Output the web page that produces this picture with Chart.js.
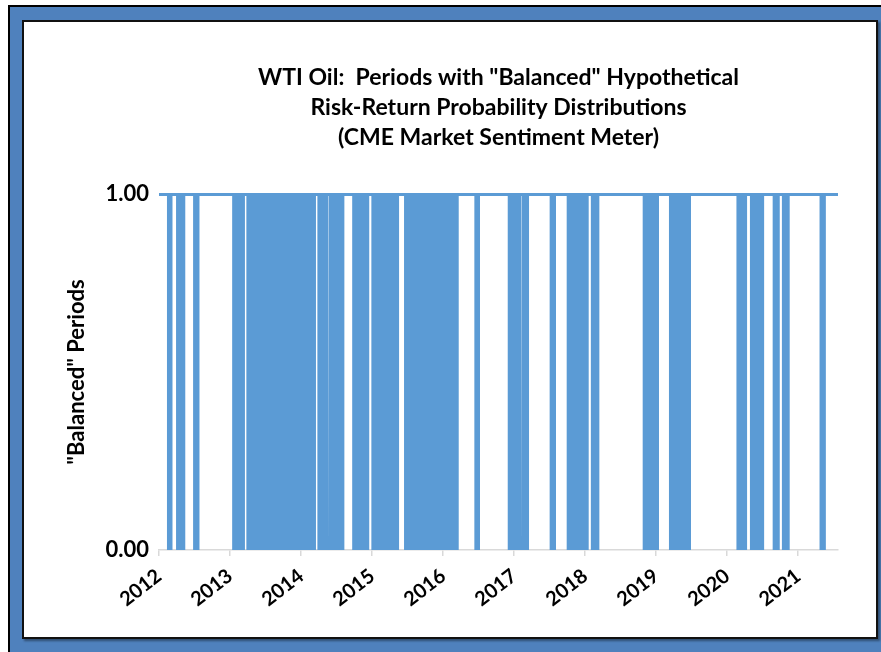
<!DOCTYPE html>
<html>
<head>
<meta charset="utf-8">
<script src="https://cdn.jsdelivr.net/npm/chart.js@4/dist/chart.umd.min.js"></script>
<style>
  html, body { margin: 0; padding: 0; background: #fff; width: 881px; height: 652px; overflow: hidden; }
  .frame { position: absolute; left: 8px; top: 5px; width: 900px; height: 700px; background: #4f81bd; border-top: 2px solid #000; border-left: 2px solid #000; box-sizing: border-box; }
  .panel { position: absolute; left: 22px; top: 20px; width: 856px; height: 619px; background: #fff; border: 2px solid #111; box-sizing: border-box; box-shadow: 2px 2px 2px rgba(0,0,0,0.4); }
  .box { position: absolute; left: 0; top: 0; width: 850px; height: 614px; }
</style>
</head>
<body>
<div class="frame"></div>
<div class="panel"><div class="box"><canvas id="oilChart"></canvas></div></div>
<script>
// "Balanced" periods, as decimal years (start / end)
const periodStart = [2012.11, 2012.24, 2012.48, 2013.03, 2013.23, 2014.23, 2014.39, 2014.72, 2014.99, 2015.45,
    2016.44, 2016.91, 2017.11, 2017.50, 2017.74, 2018.08, 2018.81, 2019.18, 2020.13, 2020.32, 2020.64, 2020.77, 2021.30];
const periodEnd = [2012.19, 2012.37, 2012.57, 2013.21, 2014.21, 2014.38, 2014.61, 2014.96, 2015.38, 2016.22,
    2016.52, 2017.10, 2017.21, 2017.59, 2018.05, 2018.20, 2019.04, 2019.49, 2020.28, 2020.52, 2020.74, 2020.88, 2021.39];
const yearLabels = ["2012", "2013", "2014", "2015", "2016", "2017", "2018", "2019", "2020", "2021"];
const yTicks = [0, 1];

const points = [];
periodStart.forEach((s, i) => {
    points.push({ x: s, y: 0 }, { x: s, y: 1 }, { x: periodEnd[i], y: 1 }, { x: periodEnd[i], y: 0 });
});

const font = "Lato, 'Open Sans', sans-serif";
const blue = "#5b9bd5";

new Chart(document.getElementById("oilChart"), {
    type: "line",
    data: {
        datasets: [{
            data: points,
            borderWidth: 0,
            borderColor: blue,
            backgroundColor: blue,
            pointRadius: 0,
            tension: 0,
            fill: "origin"
        }]
    },
    options: {
        responsive: true,
        maintainAspectRatio: false,
        animation: false,
        layout: { padding: { left: 0, right: 36, top: 0, bottom: 0 } },
        plugins: {
            legend: { display: false },
            tooltip: { enabled: false },
            title: {
                display: true,
                fullSize: false,
                text: ["WTI Oil:  Periods with \"Balanced\" Hypothetical",
                    "Risk-Return Probability Distributions",
                    "(CME Market Sentiment Meter)"],
                color: "#000",
                font: { family: font, size: 23, weight: "bold", lineHeight: 30 / 23 },
                padding: { top: 41, bottom: 41 }
            }
        },
        scales: {
            x: {
                type: "linear",
                min: 2012,
                max: 2021.56,
                afterFit: s => { s.height = 86; },
                afterBuildTicks: s => { s.ticks = s.ticks.filter(t => Number.isInteger(t.value)); },
                border: { display: true, color: "#d9d9d9", width: 1.5 },
                grid: { drawOnChartArea: false, drawTicks: true, tickLength: 6, color: "#d9d9d9", lineWidth: 1.5 },
                ticks: {
                    stepSize: 1,
                    minRotation: 38,
                    maxRotation: 38,
                    padding: 8,
                    color: "#000",
                    font: { family: font, size: 20, weight: "bold" },
                    callback: v => yearLabels[v - 2012]
                }
            },
            y: {
                min: 0,
                max: 1,
                afterFit: s => { s.width = 135; },
                afterBuildTicks: s => { s.ticks = yTicks.map(v => ({ value: v })); },
                border: { display: false },
                grid: {
                    drawTicks: false,
                    color: c => c.tick && c.tick.value === 1 ? blue : "rgba(0,0,0,0)",
                    lineWidth: 3
                },
                ticks: {
                    padding: 10,
                    color: "#000",
                    font: { family: font, size: 22, weight: "bold" },
                    callback: v => v.toFixed(2)
                },
                title: {
                    display: true,
                    text: "\"Balanced\" Periods",
                    color: "#000",
                    font: { family: font, size: 22, weight: "bold" },
                    padding: { top: 40, bottom: 0 }
                }
            }
        }
    }
});
</script>
</body>
</html>
